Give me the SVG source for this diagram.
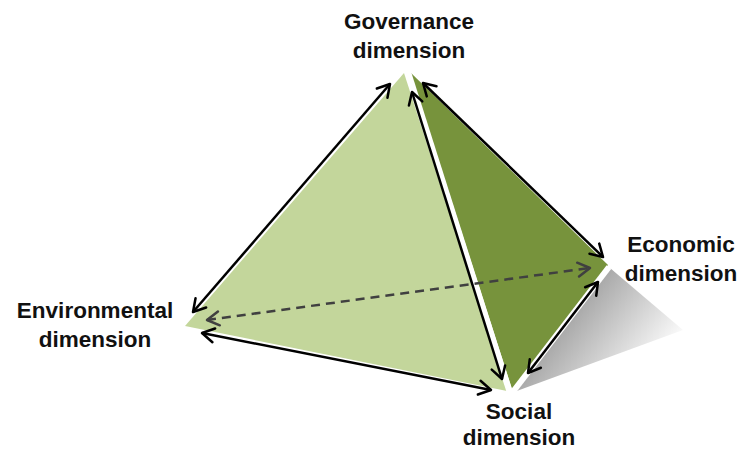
<svg xmlns="http://www.w3.org/2000/svg" width="739" height="452" viewBox="0 0 739 452">
<defs>
<linearGradient id="shadowGrad" gradientUnits="userSpaceOnUse" x1="570" y1="300" x2="660" y2="370">
<stop offset="0" stop-color="#9f9f9f"/>
<stop offset="1" stop-color="#ffffff"/>
</linearGradient>
<marker id="ah" markerUnits="userSpaceOnUse" markerWidth="18" markerHeight="18" viewBox="0 0 18 18" refX="15" refY="9" orient="auto-start-reverse">
<path d="M3,2 L15,9 L3,16" fill="none" stroke="#000" stroke-width="2.5" stroke-linecap="round" stroke-linejoin="round"/>
</marker>
<marker id="ahd" markerUnits="userSpaceOnUse" markerWidth="18" markerHeight="18" viewBox="0 0 18 18" refX="15" refY="9" orient="auto-start-reverse">
<path d="M3,2 L15,9 L3,16" fill="none" stroke="#404040" stroke-width="2.5" stroke-linecap="round" stroke-linejoin="round"/>
</marker>
</defs>
<style>
.lbl{font-family:"Liberation Sans",Arial,sans-serif;font-weight:bold;font-size:22.5px;fill:#111;text-anchor:middle}
.halo{stroke:#fff;stroke-width:6;fill:none}
.edge{stroke:#000;stroke-width:2.5;fill:none;marker-start:url(#ah);marker-end:url(#ah)}
.dash{stroke:#404040;stroke-width:2.5;fill:none;stroke-dasharray:9,6;marker-start:url(#ahd);marker-end:url(#ahd)}
</style>
<g id="shadow">
<polygon points="514,392 610,268 683,330" fill="url(#shadowGrad)"/>
</g>
<g id="face-light">
<polygon points="404,73 185,326 507,391" fill="#c3d69b"/>
</g>
<g id="face-dark">
<polygon points="410,72 608,265 513,392" fill="#77933c"/>
</g>
<g id="connectors">
<line class="halo" x1="408" y1="72" x2="510" y2="393"/>
<line class="halo" x1="512" y1="393" x2="609" y2="267" stroke-width="4"/>
<line class="edge" x1="390" y1="84" x2="193" y2="312"/>
<line class="edge" x1="423" y1="83" x2="603" y2="257"/>
<line class="edge" x1="412" y1="92" x2="502" y2="379"/>
<line class="edge" x1="202" y1="333" x2="491" y2="390"/>
<line class="edge" x1="528" y1="373" x2="598" y2="282"/>
<line class="dash" x1="207" y1="320" x2="590" y2="268"/>
</g>
<g id="node-governance">
<text class="lbl" x="409" y="29">Governance</text>
<text class="lbl" x="409" y="58">dimension</text>
</g>
<g id="node-economic">
<text class="lbl" x="681" y="252">Economic</text>
<text class="lbl" x="681" y="281">dimension</text>
</g>
<g id="node-environmental">
<text class="lbl" x="95" y="318">Environmental</text>
<text class="lbl" x="95" y="347">dimension</text>
</g>
<g id="node-social">
<text class="lbl" x="519" y="419">Social</text>
<text class="lbl" x="519" y="445">dimension</text>
</g>
</svg>
